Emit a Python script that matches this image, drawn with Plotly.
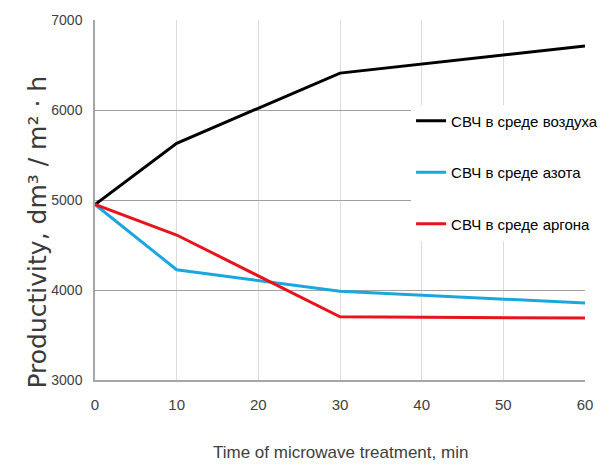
import plotly.graph_objects as go

time_min = [0, 10, 30, 60]
air = [4950, 5630, 6410, 6711]
nitrogen = [4950, 4225, 3985, 3856]
argon = [4950, 4611, 3703, 3688]
series_names = ["СВЧ в среде воздуха", "СВЧ в среде азота", "СВЧ в среде аргона"]
series_colors = ["#000000", "#1aa7e0", "#e8141c"]
x_ticks = [0, 10, 20, 30, 40, 50, 60]
y_ticks = [3000, 4000, 5000, 6000, 7000]
y_title = "Productivity, dm³ / m² · h"
x_title = "Time of microwave treatment, min"

narrow = "Liberation Sans, Arial, sans-serif"

fig = go.Figure()
for i, (name, ys, col) in enumerate(zip(series_names, [air, nitrogen, argon], series_colors)):
    fig.add_trace(go.Scatter(
        x=time_min, y=ys, mode="lines", name=name,
        line=dict(color=col, width=3), legendgroup=str(i),
    ))

fig.add_annotation(
    text=y_title, xref="paper", yref="paper", x=-0.118, y=0.41,
    xanchor="center", yanchor="middle", textangle=-90, showarrow=False,
    font=dict(family="DejaVu Sans", size=25, color="#3a3a3a"),
)
fig.add_annotation(
    text=x_title, xref="paper", yref="paper", x=0.5, y=-0.2,
    xanchor="center", yanchor="middle", showarrow=False,
    font=dict(family=narrow, size=17, color="#404040"),
)

fig.update_layout(
    width=614, height=475,
    margin=dict(l=87, r=37, t=12, b=103),
    paper_bgcolor="white", plot_bgcolor="white",
    font=dict(family=narrow, size=14, color="#404040"),
    showlegend=True,
    legend=dict(
        x=0.645, y=0.765, xanchor="left", yanchor="top",
        bgcolor="white", font=dict(family=narrow, size=15, color="#000000"),
        tracegroupgap=29, itemwidth=30,
    ),
    xaxis=dict(
        range=[0, 60], tickvals=x_ticks, showgrid=True, gridcolor="#dcdcdc", gridwidth=1,
        showline=True, linecolor="#a6a6a6", linewidth=1.5, zeroline=False, automargin=False,
        ticks="", ticklabelstandoff=10, tickfont=dict(family=narrow, size=15, color="#404040"),
    ),
    yaxis=dict(
        range=[3000, 7000], tickvals=y_ticks, showgrid=True, gridcolor="#a0a0a0", gridwidth=1,
        showline=True, linecolor="#a6a6a6", linewidth=1.5, zeroline=False, automargin=False,
        ticks="", ticklabelstandoff=8, tickfont=dict(family=narrow, size=14, color="#404040"),
    ),
)

fig.write_html("out.html")
